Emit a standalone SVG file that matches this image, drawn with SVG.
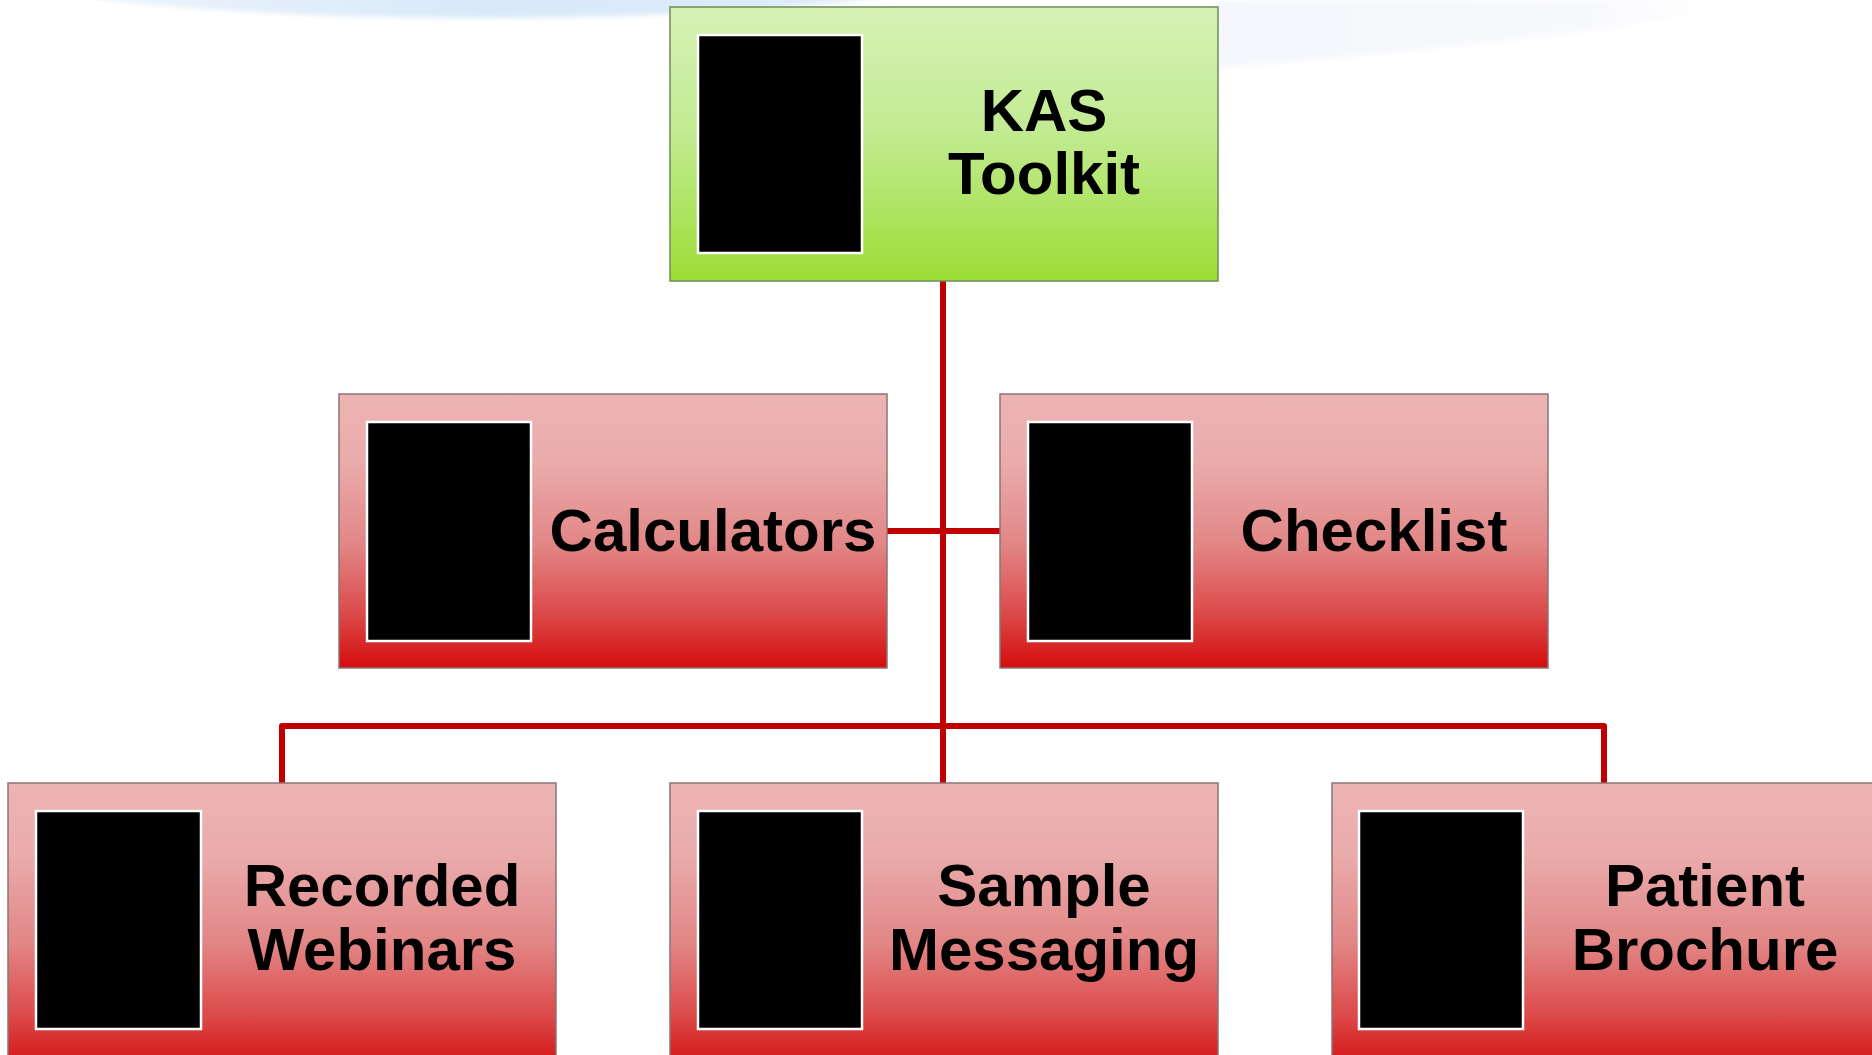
<svg xmlns="http://www.w3.org/2000/svg" width="1872" height="1055" viewBox="0 0 1872 1055">
<defs>
<linearGradient id="gGreen" x1="0" y1="0" x2="0" y2="1">
<stop offset="0" stop-color="#D6F2B6"/>
<stop offset="0.45" stop-color="#C2EB92"/>
<stop offset="1" stop-color="#9CDD36"/>
</linearGradient>
<linearGradient id="gRed" x1="0" y1="0" x2="0" y2="1">
<stop offset="0" stop-color="#EDB4B4"/>
<stop offset="0.25" stop-color="#EAABAB"/>
<stop offset="0.55" stop-color="#E28686"/>
<stop offset="0.8" stop-color="#DC4A4A"/>
<stop offset="1" stop-color="#D40C0C"/>
</linearGradient>
<linearGradient id="gBlue" x1="0" y1="0" x2="1" y2="0">
<stop offset="0" stop-color="#F2F7FD"/>
<stop offset="0.5" stop-color="#D9E9F8"/>
<stop offset="1" stop-color="#E2EEFA"/>
</linearGradient>
<linearGradient id="gFaint" x1="0" y1="0" x2="1" y2="0">
<stop offset="0" stop-color="#F5F7FC"/>
<stop offset="0.7" stop-color="#F8F9FD"/>
<stop offset="1" stop-color="#FFFFFF" stop-opacity="0"/>
</linearGradient>
<filter id="soft" x="-10%" y="-10%" width="120%" height="130%"><feGaussianBlur stdDeviation="2.5"/></filter>
<style>
.red{fill:url(#gRed);stroke:#8C7474;stroke-width:1.5}
.green{fill:url(#gGreen);stroke:#6E8C58;stroke-width:1.5}
.pic{fill:#000;stroke:#fff;stroke-width:2.5}
.lbl{font-family:"Liberation Sans",Arial,sans-serif;font-weight:bold;font-size:60px;fill:#000;text-anchor:middle}
.conn{fill:none;stroke:#C00000;stroke-width:6;stroke-linejoin:round}
</style>
</defs>
<rect width="1872" height="1055" fill="#fff"/>
<ellipse cx="483" cy="-42" rx="527" ry="60" fill="url(#gBlue)" filter="url(#soft)"/>
<path d="M1218,0 H1760 C1700,20 1500,45 1218,68 Z" fill="url(#gFaint)" filter="url(#soft)"/>
<g id="connectors">
<line class="conn" x1="943" y1="281" x2="943" y2="783"/>
<line class="conn" x1="887" y1="531" x2="1000" y2="531"/>
<path class="conn" d="M282,783 V726 H1604 V783"/>
</g>
<g id="node-kas">
<rect class="green" x="670" y="7" width="548" height="274"/>
<rect class="pic" x="698" y="35" width="164" height="218"/>
<text class="lbl" x="1044" y="131">KAS</text>
<text class="lbl" x="1044" y="194">Toolkit</text>
</g>
<g id="node-calculators">
<rect class="red" x="339" y="394" width="548" height="274"/>
<rect class="pic" x="367" y="422" width="164" height="219"/>
<text class="lbl" x="713" y="551">Calculators</text>
</g>
<g id="node-checklist">
<rect class="red" x="1000" y="394" width="548" height="274"/>
<rect class="pic" x="1028" y="422" width="164" height="219"/>
<text class="lbl" x="1374" y="551">Checklist</text>
</g>
<g id="node-webinars">
<rect class="red" x="8" y="783" width="548" height="290"/>
<rect class="pic" x="36" y="811" width="165" height="218"/>
<text class="lbl" x="382" y="906">Recorded</text>
<text class="lbl" x="382" y="970">Webinars</text>
</g>
<g id="node-messaging">
<rect class="red" x="670" y="783" width="548" height="290"/>
<rect class="pic" x="698" y="811" width="164" height="218"/>
<text class="lbl" x="1044" y="906">Sample</text>
<text class="lbl" x="1044" y="970">Messaging</text>
</g>
<g id="node-brochure">
<rect class="red" x="1332" y="783" width="548" height="290"/>
<rect class="pic" x="1359" y="811" width="164" height="218"/>
<text class="lbl" x="1705" y="906">Patient</text>
<text class="lbl" x="1705" y="970">Brochure</text>
</g>
</svg>
